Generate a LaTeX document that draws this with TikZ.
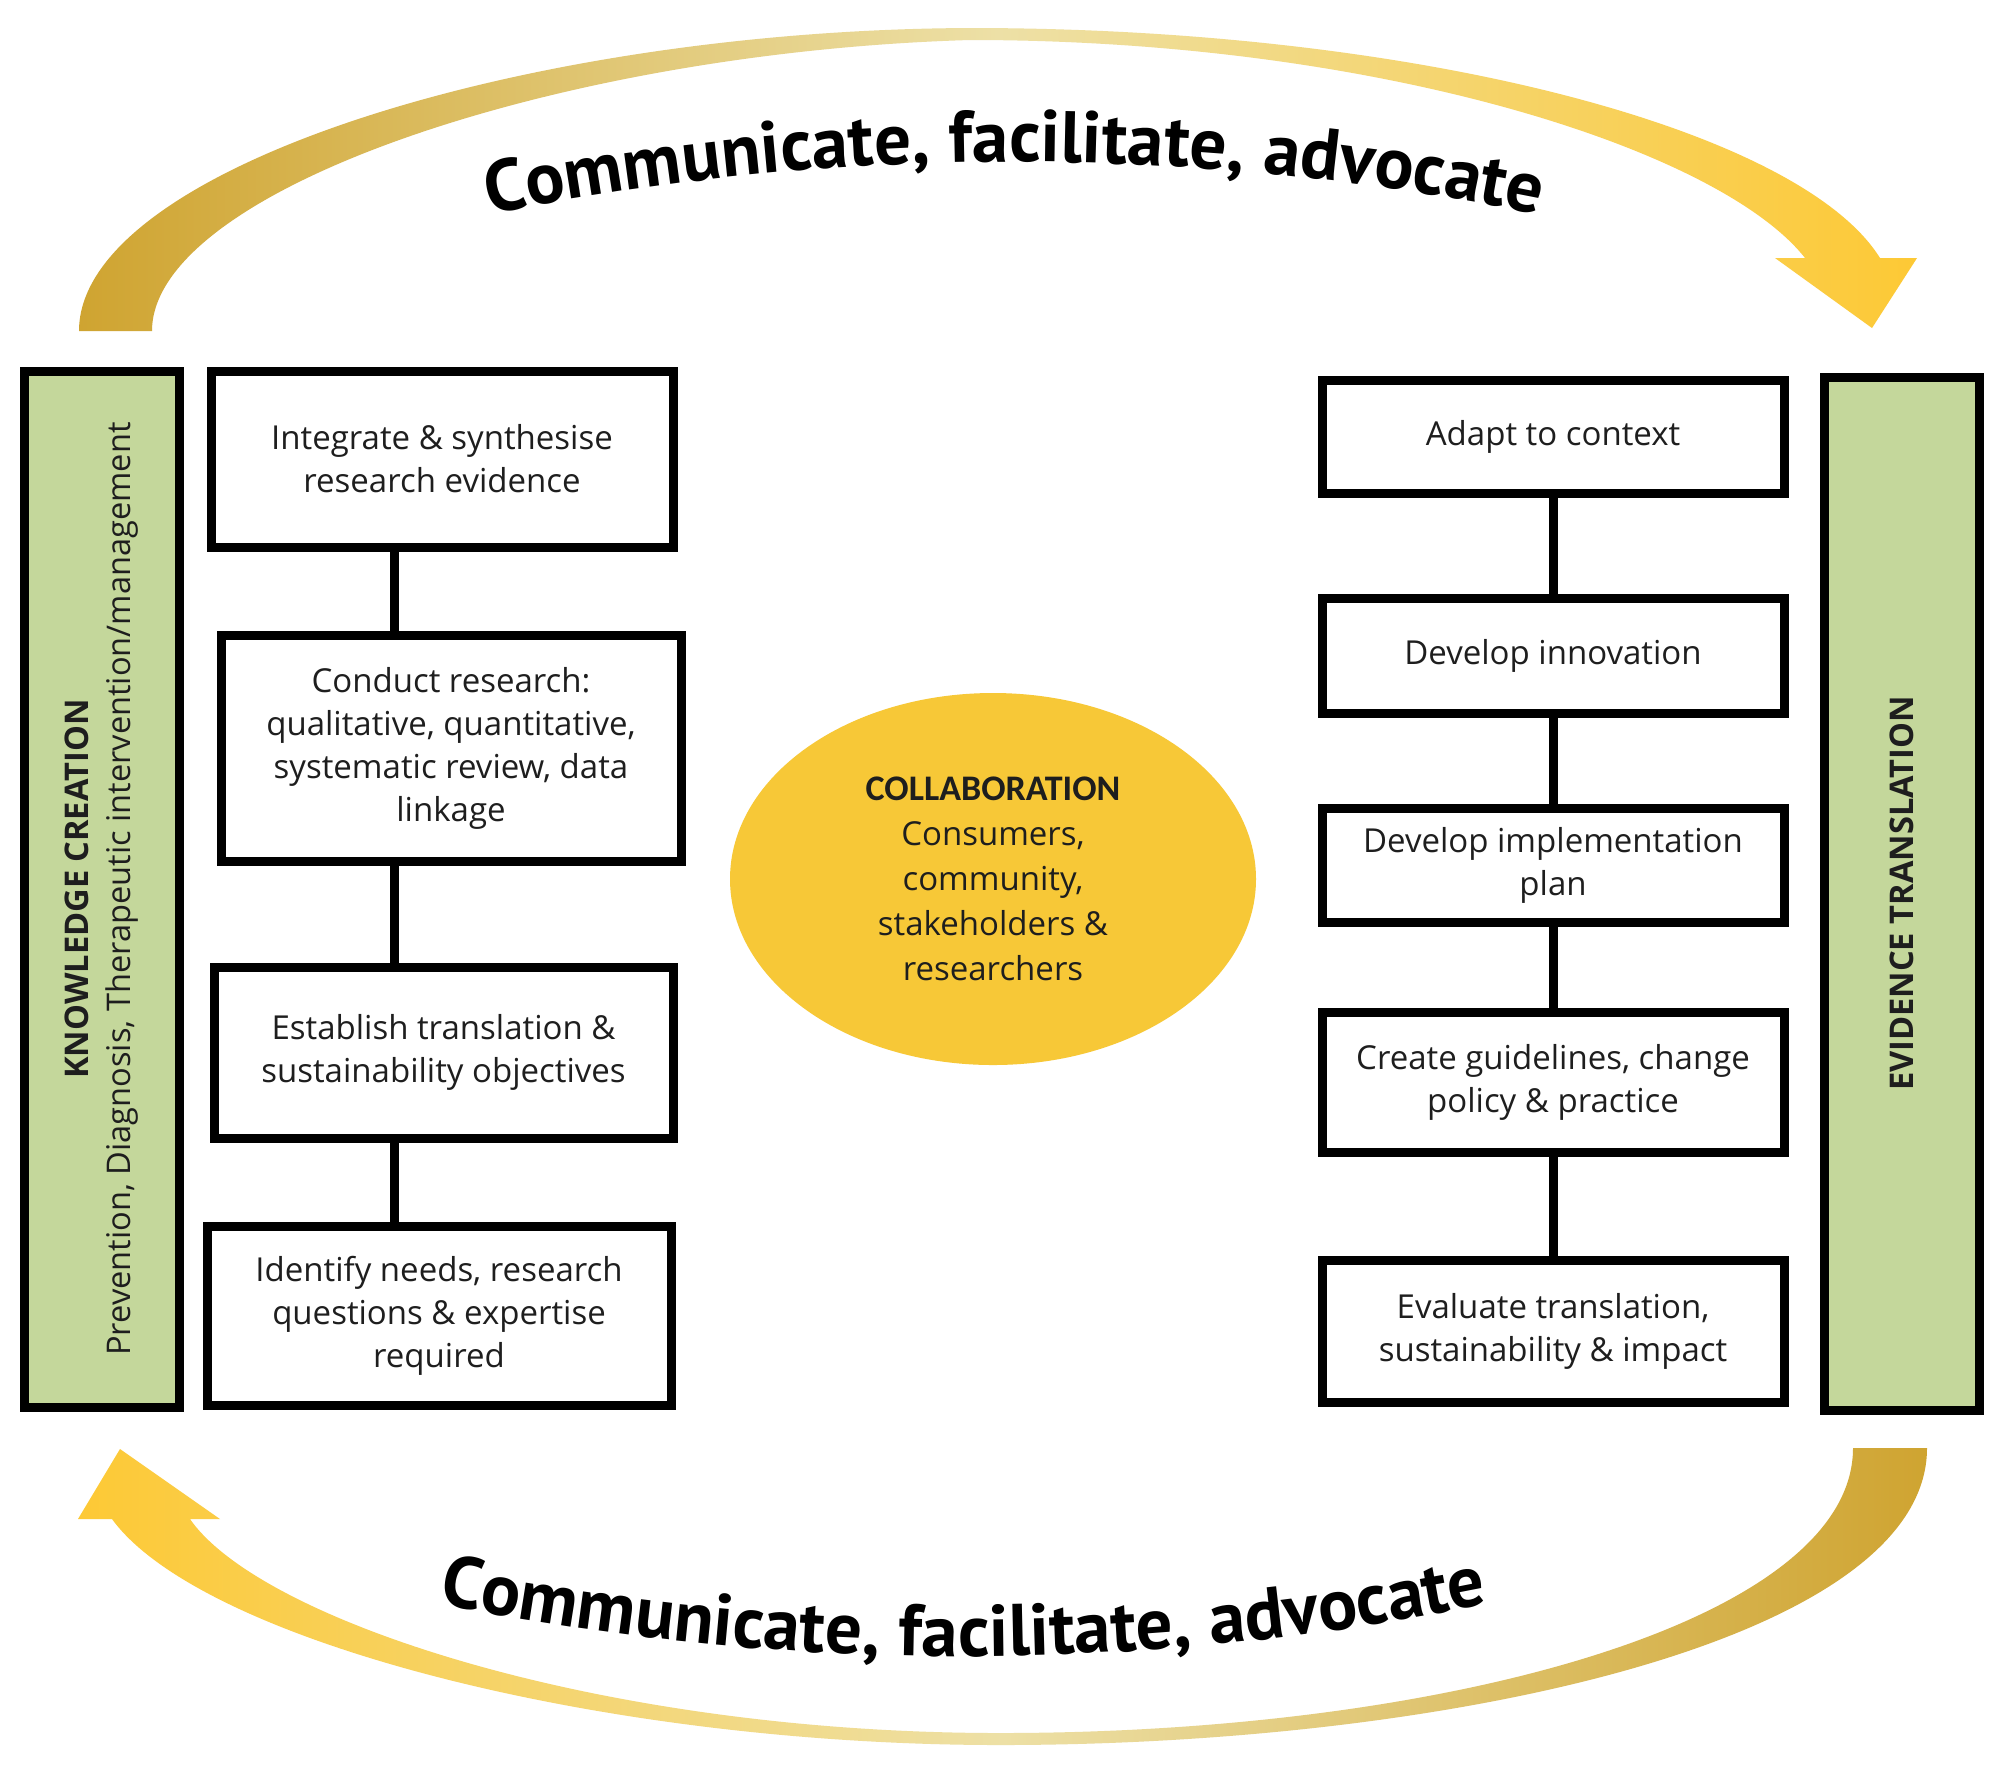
\documentclass[tikz,border=0pt]{standalone}
\usepackage{fontspec}
\setmainfont{Open Sans}
\newfontfamily\arcfont{PT Sans}
\newfontfamily\carlito{Carlito}
\usetikzlibrary{shapes.geometric,decorations.text}
\definecolor{barGreen}{HTML}{C4D79B}
\definecolor{ellY}{HTML}{F7C837}
\definecolor{txt}{HTML}{1E1E1E}
\definecolor{goldDark}{HTML}{CFA431}
\definecolor{goldBright}{HTML}{FDC935}
\definecolor{goldPale}{HTML}{EDE0A6}
\newcommand\arcstyle{\arcfont\bfseries\fontsize{36.5}{40}\selectfont}
\begin{document}
\begin{tikzpicture}[x=0.5pt,y=-0.5pt,
  box/.style={draw=black, line width=4.5pt, fill=white, align=center, text=txt,
    font=\fontsize{16.5}{21.5}\selectfont, inner sep=0pt},
  bar/.style={draw=black, line width=4.5pt, fill=barGreen, inner sep=0pt},
  bartext/.style={rotate=90, align=center, text=txt, inner sep=0pt,
    font=\fontsize{16.3}{21}\selectfont},
  conn/.style={line width=4.5pt, draw=black},
  arctext/.style={decorate, decoration={text along path, text align=center,
    text={|\arcstyle|Communicate, facilitate, advocate}}}]
\useasboundingbox (0,0) rectangle (2000,1769);
\fill[white] (0,0) rectangle (2000,1769);

% top curved arrow
\shade[left color=goldDark, right color=goldBright, middle color=goldPale]
  (79,331) .. controls (79,170) and (520,30) .. (970,28)
  .. controls (1420,28) and (1800,130) .. (1880,258)
  -- (1917,258) -- (1872,328) -- (1775,258) -- (1805,258)
  .. controls (1720,150) and (1380,40) .. (970,40)
  .. controls (560,52) and (152,190) .. (152,331) -- cycle;

% bottom curved arrow
\shade[left color=goldBright, right color=goldDark, middle color=goldPale]
  (1853,1448) -- (1927,1448)
  .. controls (1927,1640) and (1450,1745) .. (1000,1745)
  .. controls (600,1745) and (200,1640) .. (112,1519)
  -- (78,1519) -- (120,1449) -- (220,1519) -- (190,1519)
  .. controls (260,1620) and (600,1733) .. (1000,1733)
  .. controls (1450,1733) and (1853,1620) .. (1853,1448) -- cycle;

% curved texts
\path[arctext] (328,252) arc[start angle=255, end angle=285, radius=2650];
\path[arctext] (277,1566) arc[start angle=105, end angle=75, radius=2650];

% side bars
\node[bar, minimum width=77.5pt, minimum height=518pt] (lbar) at (101.5,889) {};
\node[bartext] (ltext) at (lbar) {{\bfseries KNOWLEDGE CREATION}\\Prevention, Diagnosis, Therapeutic intervention/management};
\node[bar, minimum width=77.5pt, minimum height=516.5pt] (rbar) at (1901.5,893.5) {};
\node[bartext] (rtext) at (rbar) {\bfseries EVIDENCE TRANSLATION};

% left boxes
\node[box, minimum width=231pt, minimum height=88pt] (l1) at (442,459) {Integrate \& synthesise\\research evidence};
\node[box, minimum width=230pt, minimum height=113pt] (l2) at (451,748) {Conduct research:\\qualitative, quantitative,\\systematic review, data\\linkage};
\node[box, minimum width=229.5pt, minimum height=85.5pt] (l3) at (443.5,1052.5) {Establish translation \&\\sustainability objectives};
\node[box, minimum width=232pt, minimum height=89.5pt] (l4) at (439,1315.5) {Identify needs, research\\questions \& expertise\\required};

% right boxes
\node[box, minimum width=231pt, minimum height=56.5pt] (r1) at (1553,436.5) {Adapt to context};
\node[box, minimum width=231pt, minimum height=57.5pt] (r2) at (1553,655.5) {Develop innovation};
\node[box, minimum width=231pt, minimum height=57pt] (r3) at (1553,865) {Develop implementation\\plan};
\node[box, minimum width=231pt, minimum height=70pt] (r4) at (1553,1082) {Create guidelines, change\\policy \& practice};
\node[box, minimum width=231pt, minimum height=71pt] (r5) at (1553,1331) {Evaluate translation,\\sustainability \& impact};

% connectors
\coordinate (lx) at (394,0);
\draw[conn] (l1.south -| lx) -- (l2.north -| lx);
\draw[conn] (l2.south -| lx) -- (l3.north -| lx);
\draw[conn] (l3.south -| lx) -- (l4.north -| lx);
\draw[conn] (r1.south) -- (r2.north);
\draw[conn] (r2.south) -- (r3.north);
\draw[conn] (r3.south) -- (r4.north);
\draw[conn] (r4.south) -- (r5.north);

% collaboration ellipse
\node[ellipse, fill=ellY, minimum width=263pt, minimum height=186pt, inner sep=0pt,
  align=center, text=txt, font=\fontsize{16.5}{22.5}\selectfont] (col) at (993,879)
  {{\carlito\bfseries\fontsize{18}{22.5}\selectfont COLLABORATION}\\Consumers,\\community,\\stakeholders \&\\researchers};
\end{tikzpicture}
\end{document}
